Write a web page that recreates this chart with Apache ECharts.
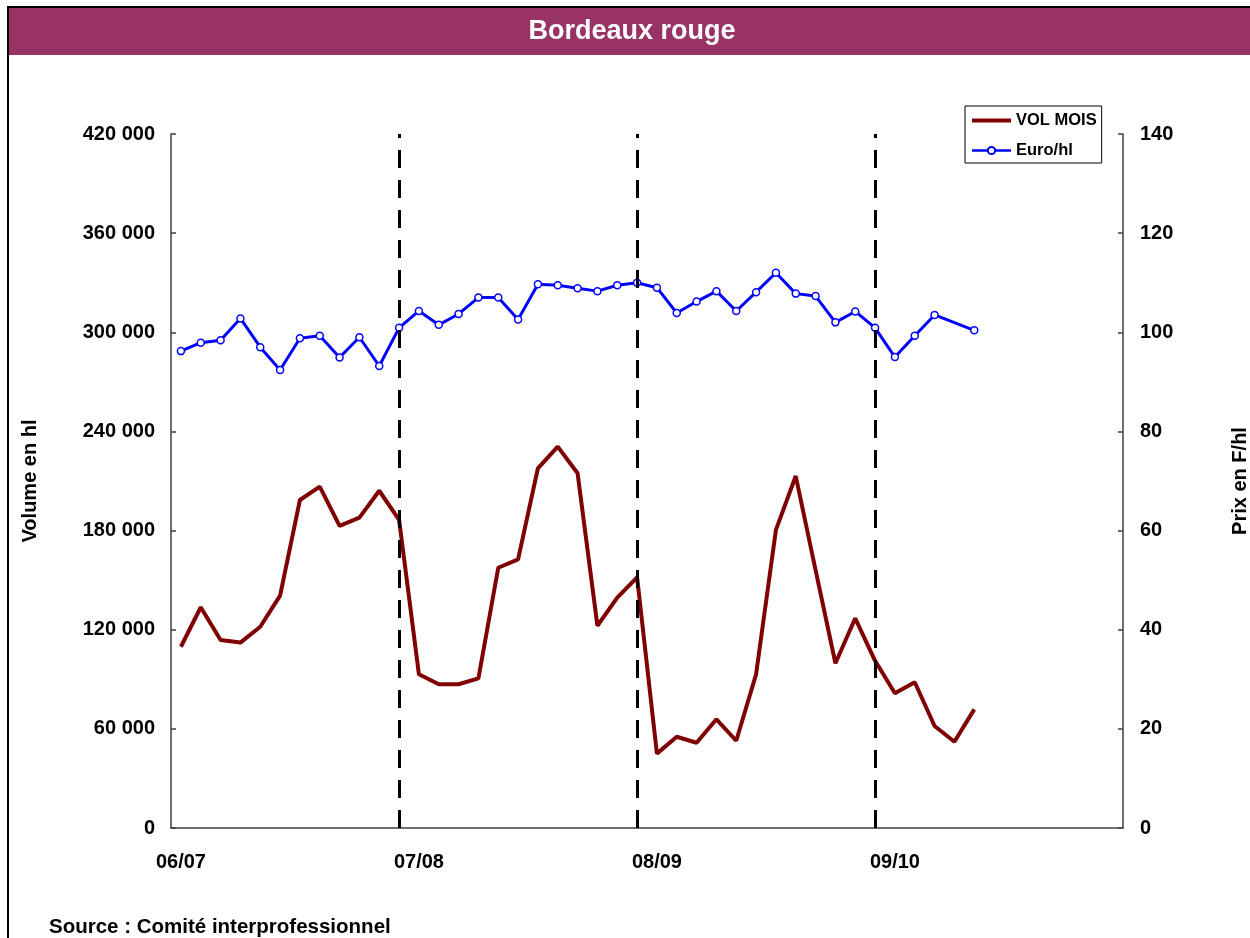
<!DOCTYPE html>
<html>
<head>
<meta charset="utf-8">
<title>Bordeaux rouge</title>
<script src="https://cdn.jsdelivr.net/npm/echarts@6/dist/echarts.min.js"></script>
<style>
  html, body { margin: 0; padding: 0; background: #fff; overflow: hidden; }
  #chart { width: 1250px; height: 938px; }
</style>
</head>
<body>
<div id="chart"></div>
<script>
  // months from Aug 2006 to Jul 2010 (one campaign = 12 months)
  var months = [
    '2006-08','2006-09','2006-10','2006-11','2006-12','2007-01','2007-02','2007-03','2007-04','2007-05','2007-06','2007-07',
    '2007-08','2007-09','2007-10','2007-11','2007-12','2008-01','2008-02','2008-03','2008-04','2008-05','2008-06','2008-07',
    '2008-08','2008-09','2008-10','2008-11','2008-12','2009-01','2009-02','2009-03','2009-04','2009-05','2009-06','2009-07',
    '2009-08','2009-09','2009-10','2009-11','2009-12','2010-01','2010-02','2010-03','2010-04','2010-05','2010-06','2010-07'
  ]
  var seasons = ['06/07', '07/08', '08/09', '09/10']

  // VOL MOIS (hl)
  var volMois = [
    109700, 133600, 113800, 112200, 121800, 140600, 198500, 206600, 182800, 187800, 204100, 186500,
    93000, 87000, 87000, 90600, 157500, 162600, 217700, 230800, 214700, 122400, 139400, 151700,
    45000, 55200, 51600, 65800, 52800, 93000, 180400, 213000, 156100, 99700, 126900, 101200,
    81500, 88200, 61700, 52200, 71800
  ]
  // Euro/hl
  var euroHl = [
    96.2, 97.9, 98.4, 102.8, 97.0, 92.4, 98.8, 99.3, 94.9, 99.0, 93.2, 100.9,
    104.3, 101.5, 103.7, 107.0, 107.0, 102.6, 109.7, 109.5, 108.9, 108.3, 109.5, 110.0,
    109.0, 103.9, 106.2, 108.3, 104.3, 108.1, 112.0, 107.8, 107.3, 102.0, 104.2, 100.9,
    95.0, 99.3, 103.5, null, 100.4
  ]

  var FONT = "'Liberation Sans', Arial, sans-serif"
  var chart = echarts.init(document.getElementById('chart'), null, { renderer: 'canvas' })

  chart.setOption({
    backgroundColor: '#fff',
    animation: false,
    textStyle: { fontFamily: FONT },
    graphic: [
      {
        type: 'rect',
        z: -10,
        shape: { x: 9, y: 8, width: 1241, height: 47 },
        style: { fill: '#993366' }
      },
      {
        type: 'rect',
        z: -9,
        shape: { x: 8, y: 7, width: 1260, height: 960 },
        style: { fill: 'none', stroke: '#000', lineWidth: 2 }
      },
      {
        type: 'text',
        z: 10,
        style: {
          text: 'Bordeaux rouge',
          x: 632, y: 32,
          align: 'center', verticalAlign: 'middle',
          fill: '#fff',
          font: 'bold 27px ' + FONT
        }
      },
      {
        type: 'text',
        z: 10,
        style: {
          text: 'Source : Comité interprofessionnel',
          x: 49, y: 927,
          align: 'left', verticalAlign: 'middle',
          fill: '#000',
          font: 'bold 20.5px ' + FONT
        }
      }
    ],
    legend: {
      orient: 'vertical',
      left: 965,
      top: 106,
      padding: [6, 5, 4, 5],
      itemGap: 13,
      itemWidth: 39,
      itemHeight: 9,
      itemTextGap: 3,
      borderColor: '#000',
      borderWidth: 1,
      backgroundColor: '#fff',
      textStyle: { color: '#000', fontSize: 16.5, fontWeight: 'bold', fontFamily: FONT },
      data: [
        { name: 'VOL MOIS', itemStyle: { opacity: 0 }, lineStyle: { width: 4 } },
        { name: 'Euro/hl', lineStyle: { width: 2.5 } }
      ]
    },
    grid: {
      left: 171,
      right: 127,
      top: 134,
      bottom: 110,
      outerBoundsMode: 'none',
      containLabel: false
    },
    xAxis: {
      type: 'category',
      data: months,
      boundaryGap: true,
      axisLine: { show: true, lineStyle: { color: '#404040', width: 1.5 } },
      axisTick: { show: false },
      axisLabel: {
        interval: function (index) { return index % 12 === 0 },
        margin: 24,
        color: '#000',
        fontSize: 20,
        fontWeight: 'bold',
        fontFamily: FONT,
        formatter: function (value, index) {
          return index % 12 === 0 ? seasons[index / 12] : ''
        }
      },
      splitLine: { show: false }
    },
    yAxis: [
      {
        type: 'value',
        min: 0,
        max: 420000,
        interval: 60000,
        name: 'Volume en hl',
        nameLocation: 'middle',
        nameRotate: 90,
        nameGap: 131,
        nameTextStyle: { color: '#000', fontSize: 20, fontWeight: 'bold', fontFamily: FONT },
        axisLine: { show: true, lineStyle: { color: '#404040', width: 1.5 } },
        axisTick: { show: true, inside: true, length: 5, lineStyle: { color: '#404040', width: 1.5 } },
        axisLabel: {
          margin: 16,
          color: '#000',
          fontSize: 20,
          fontWeight: 'bold',
          fontFamily: FONT,
          formatter: function (v) { return v === 0 ? '0' : (v / 1000) + ' 000' }
        },
        splitLine: { show: false }
      },
      {
        type: 'value',
        position: 'right',
        min: 0,
        max: 140,
        interval: 20,
        name: 'Prix en F/hl',
        nameLocation: 'middle',
        nameRotate: 90,
        nameGap: 107,
        nameTextStyle: { color: '#000', fontSize: 20, fontWeight: 'bold', fontFamily: FONT },
        axisLine: { show: true, lineStyle: { color: '#404040', width: 1.5 } },
        axisTick: { show: true, inside: true, length: 5, lineStyle: { color: '#404040', width: 1.5 } },
        axisLabel: {
          margin: 17,
          color: '#000',
          fontSize: 20,
          fontWeight: 'bold',
          fontFamily: FONT
        },
        splitLine: { show: false }
      }
    ],
    series: [
      {
        name: 'VOL MOIS',
        type: 'line',
        yAxisIndex: 0,
        data: volMois,
        symbol: 'none',
        lineStyle: { color: '#800000', width: 4 },
        itemStyle: { color: '#800000' },
        markLine: {
          silent: true,
          symbol: 'none',
          label: { show: false },
          lineStyle: { color: '#000', type: [18, 12], width: 3 },
          data: [
            { xAxis: months[11] },
            { xAxis: months[23] },
            { xAxis: months[35] }
          ]
        }
      },
      {
        name: 'Euro/hl',
        type: 'line',
        yAxisIndex: 1,
        data: euroHl,
        connectNulls: true,
        symbol: 'circle',
        symbolSize: 7,
        lineStyle: { color: '#0000ff', width: 3 },
        itemStyle: { color: '#fff', borderColor: '#0000ff', borderWidth: 1.5 }
      }
    ]
  })
</script>
</body>
</html>
